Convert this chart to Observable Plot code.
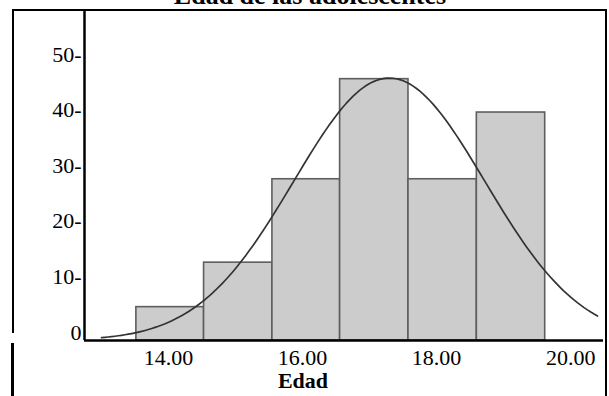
<!DOCTYPE html>
<html>
<head>
<meta charset="utf-8">
<script src="https://cdn.jsdelivr.net/npm/d3@7"></script>
<script src="https://cdn.jsdelivr.net/npm/@observablehq/plot@0.6"></script>
<style>
  html, body { margin: 0; padding: 0; background: #fff; overflow: hidden; }
  #wrap { position: relative; width: 609px; height: 396px; }
  #chart { position: absolute; left: 0; top: 0; }
  .title { position: absolute; left: 0; width: 620px; top: -17px; text-align: center;
           font-family: "Liberation Serif", "Times New Roman", serif; font-weight: bold;
           font-size: 26px; line-height: 26px; color: #000; white-space: nowrap; }
  .box-top { position: absolute; left: 12px; top: 9px; width: 595px; height: 0; border-top: 2px solid #000; }
  .box-left { position: absolute; left: 12px; top: 9px; width: 0; height: 324px; border-left: 2px solid #000; }
  .box-left2 { position: absolute; left: 11px; top: 343px; width: 0; height: 60px; border-left: 3px solid #000; }
  .box-right { position: absolute; left: 605px; top: 9px; width: 0; height: 400px; border-left: 2px solid #000; }
</style>
</head>
<body>
<div id="wrap">
  <div class="title">Edad de las adolescentes</div>
  <div id="chart"></div>
  <div class="box-top"></div>
  <div class="box-left"></div>
  <div class="box-left2"></div>
  <div class="box-right"></div>
</div>
<script>
// Histogram data
const binLo  = [13.52, 14.53, 15.55, 16.56, 17.58, 18.60];
const binHi  = [14.53, 15.55, 16.56, 17.58, 18.60, 19.62];
const counts = [6, 14, 29, 47, 29, 41];
const xTicks = [14, 16, 18, 20];
const yTicks = [0, 10, 20, 30, 40, 50];
const xTitle = "Edad";

const xDomain = [12.746, 20.49];
const yDomain = [0, 59.35];

const bars = counts.map((c, i) => ({lo: binLo[i], hi: binHi[i], count: c}));

// Fitted normal curve (from the histogram's own mean and standard deviation)
const N = d3.sum(counts);
const mids = binLo.map((lo, i) => (lo + binHi[i]) / 2);
const mean = d3.sum(mids, (m, i) => m * counts[i]) / N;
const sd = Math.sqrt(d3.sum(mids, (m, i) => counts[i] * (m - mean) ** 2) / (N - 1));
const bw = d3.mean(binHi.map((h, i) => h - binLo[i]));
const curveX = d3.range(13.0, 20.41, 0.05);
const curve = curveX.map(x => ({x, y: N * bw / (sd * Math.sqrt(2 * Math.PI)) * Math.exp(-0.5 * ((x - mean) / sd) ** 2)}));

const chart = Plot.plot({
  width: 609,
  height: 396,
  marginLeft: 84,
  marginRight: 6,
  marginTop: 10,
  marginBottom: 56,
  style: {fontFamily: "'Liberation Serif', 'Times New Roman', serif", fontSize: "22px", color: "#000", background: "transparent"},
  x: {domain: xDomain, ticks: xTicks, tickFormat: d3.format(".2f"), tickSize: 0, tickPadding: 9, label: null},
  y: {domain: yDomain, axis: null},
  marks: [
    Plot.rectY(bars, {x1: "lo", x2: "hi", y: "count", fill: "#cccccc", stroke: "#5e5e5e", strokeWidth: 1.6}),
    Plot.line(curve, {x: "x", y: "y", stroke: "#333333", strokeWidth: 1.7, curve: "linear"}),
    Plot.ruleY([0], {stroke: "#000", strokeWidth: 2.5}),
    Plot.ruleX([xDomain[0]], {stroke: "#000", strokeWidth: 2.5}),
    Plot.text(yTicks, {y: d => d, frameAnchor: "left", textAnchor: "end", dx: -3, dy: -8,
      text: d => d === 0 ? "0" : d + "-", fill: "#000"}),
    Plot.text([xTitle], {frameAnchor: "bottom", dx: -41, dy: 47, text: d => d, fontWeight: "bold", fontSize: 22, fill: "#000"})
  ]
});
document.getElementById("chart").appendChild(chart);
</script>
</body>
</html>
